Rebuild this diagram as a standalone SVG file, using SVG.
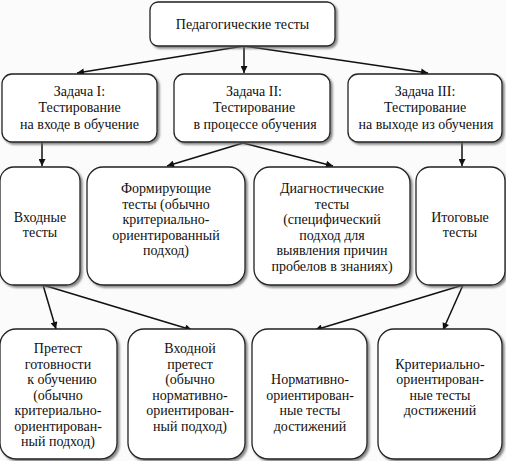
<svg xmlns="http://www.w3.org/2000/svg" width="506" height="461" viewBox="0 0 506 461">
<defs>
<style>
.box{fill:#fff;stroke:#222;stroke-width:1.3;filter:url(#sh)}
.t text{font-size:14px;fill:#111;text-anchor:middle}
.c{stroke:#111;stroke-width:1.5;fill:none;marker-end:url(#ah)}
</style>
<filter id="sh" x="-10%" y="-10%" width="130%" height="130%">
<feDropShadow dx="2" dy="2" stdDeviation="1.2" flood-color="#666" flood-opacity="0.8"/>
</filter>
<marker id="ah" viewBox="0 0 10 10" refX="10" refY="5" markerWidth="8" markerHeight="7" markerUnits="userSpaceOnUse" orient="auto">
<path d="M0,0 L10,5 L0,10 z" fill="#111"/>
</marker>
</defs>
<rect width="506" height="461" fill="#fbfbfb"/>
<g id="connectors">
<line class="c" x1="244" y1="46" x2="77" y2="73"/>
<line class="c" x1="244" y1="46" x2="244" y2="73"/>
<line class="c" x1="244" y1="46" x2="428" y2="73"/>
<line class="c" x1="42" y1="142" x2="42" y2="166"/>
<line class="c" x1="243" y1="143" x2="167" y2="166"/>
<line class="c" x1="243" y1="143" x2="333" y2="166"/>
<line class="c" x1="462" y1="142" x2="462" y2="166"/>
<line class="c" x1="43" y1="285" x2="56" y2="329"/>
<line class="c" x1="43" y1="285" x2="192" y2="330"/>
<line class="c" x1="463" y1="285" x2="315" y2="330"/>
<line class="c" x1="463" y1="285" x2="443" y2="330"/>
</g>
<g class="t" font-family="Liberation Serif, DejaVu Serif, serif">
<g id="n0"><rect class="box" x="150" y="2" width="185" height="44" rx="8"/><text x="242.5" y="29">Педагогические тесты</text></g>
<g id="n1"><rect class="box" x="2" y="74" width="155" height="68" rx="10"/><text x="79.5" y="95.5">Задача I:</text><text x="79.5" y="112">Тестирование</text><text x="79.5" y="128.5">на входе в обучение</text></g>
<g id="n2"><rect class="box" x="174" y="74" width="156" height="68" rx="10"/><text x="254" y="95.5">Задача II:</text><text x="254" y="112">Тестирование</text><text x="255" y="128.5">в процессе обучения</text></g>
<g id="n3"><rect class="box" x="348" y="74" width="154" height="68" rx="10"/><text x="425" y="95.5">Задача III:</text><text x="425" y="112">Тестирование</text><text x="426" y="128.5">на выходе из обучения</text></g>
<g id="n4"><rect class="box" x="0" y="167" width="80" height="118" rx="14"/><text x="40" y="222">Входные</text><text x="40" y="237">тесты</text></g>
<g id="n5"><rect class="box" x="87" y="167" width="158" height="118" rx="16"/><text x="166" y="193">Формирующие</text><text x="166" y="208.5">тесты (обычно</text><text x="166" y="224">критериально-</text><text x="166" y="239.5">ориентированный</text><text x="166" y="255">подход)</text></g>
<g id="n6"><rect class="box" x="254" y="167" width="156" height="118" rx="16"/><text x="332" y="193">Диагностические</text><text x="332" y="208.5">тесты</text><text x="332" y="224">(специфический</text><text x="332" y="239.5">подход для</text><text x="332" y="255">выявления причин</text><text x="332" y="270.5">пробелов в знаниях)</text></g>
<g id="n7"><rect class="box" x="416" y="167" width="89" height="118" rx="14"/><text x="460" y="222">Итоговые</text><text x="460" y="237">тесты</text></g>
<g id="n8"><rect class="box" x="0" y="329" width="117" height="130" rx="16"/><text x="58" y="353">Претест</text><text x="58" y="368.5">готовности</text><text x="62" y="384">к обучению</text><text x="58" y="399.5">(обычно</text><text x="58" y="415">критериально-</text><text x="58" y="430.5">ориентирован-</text><text x="58" y="446">ный подход)</text></g>
<g id="n9"><rect class="box" x="128" y="329" width="117" height="130" rx="16"/><text x="190" y="353">Входной</text><text x="190" y="368.5">претест</text><text x="190" y="384">(обычно</text><text x="190" y="399.5">нормативно-</text><text x="190" y="415">ориентирован-</text><text x="190" y="430.5">ный подход)</text></g>
<g id="n10"><rect class="box" x="252" y="329" width="115" height="130" rx="16"/><text x="310" y="384">Нормативно-</text><text x="310" y="399.5">ориентирован-</text><text x="310" y="415">ные тесты</text><text x="310" y="430.5">достижений</text></g>
<g id="n11"><rect class="box" x="378" y="329" width="124" height="130" rx="16"/><text x="440" y="368.5">Критериально-</text><text x="440" y="384">ориентирован-</text><text x="440" y="399.5">ные тесты</text><text x="440" y="415">достижений</text></g>
</g>
</svg>
